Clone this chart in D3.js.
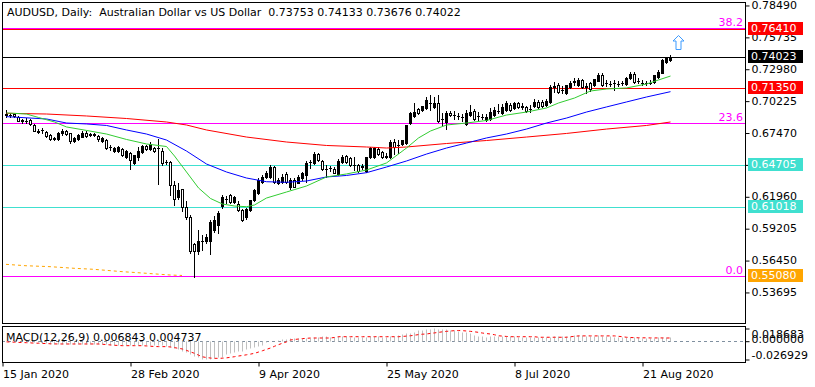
<!DOCTYPE html>
<html><head><meta charset="utf-8">
<script src="https://cdn.jsdelivr.net/npm/d3@7"></script>
<style>
html,body{margin:0;padding:0;background:#fff;}
svg{display:block;font-family:"DejaVu Sans",sans-serif;font-size:11px;}
</style></head><body>
<svg id="c" width="815" height="387"></svg>
<script>
const title = "AUDUSD, Daily:  Australian Dollar vs US Dollar  0.73753 0.74133 0.73676 0.74022";
const macdTitle = "MACD(12,26,9) 0.006843 0.004737";

const open = [.6907,.6896,.6907,.6884,.6849,.6849,.6855,.6815,.6760,.6765,.6752,.6728,.6688,.6688,.6740,.6758,.6740,.6671,.6688,.6711,
.6745,.6726,.6730,.6717,.6676,.6682,.6626,.6585,.6585,.6607,.6538,.6568,.6481,.6538,.6579,.6631,.6607,.6613,.6613,.6590,
.6492,.6492,.6296,.6193,.6256,.6101,.6020,.5784,.5726,.5807,.5807,.5812,.5905,.5951,.6112,.6170,.6207,.6149,.6129,.6078,
.6015,.6078,.6164,.6222,.6320,.6365,.6365,.6447,.6308,.6320,.6386,.6274,.6337,.6313,.6354,.6380,.6488,.6486,.6561,.6504,
.6436,.6438,.6429,.6389,.6492,.6544,.6524,.6466,.6466,.6452,.6417,.6533,.6538,.6602,.6579,.6540,.6538,.6665,.6637,.6648,
.6654,.6827,.6890,.6948,.6942,.6956,.6999,.6965,.7005,.6864,.6841,.6918,.6898,.6890,.6879,.6821,.6898,.6936,.6890,.6881,
.6855,.6868,.6898,.6936,.6913,.6942,.6985,.6956,.7000,.6970,.6965,.6948,.6976,.7013,.7013,.6985,.7013,.7143,.7158,.7114,
.7091,.7138,.7186,.7158,.7201,.7143,.7172,.7158,.7195,.7247,.7172,.7166,.7172,.7166,.7172,.7166,.7216,.7253,.7195,.7177,
.7172,.7177,.7186,.7229,.7264,.7359,.73753];
const high = [.6942,.6918,.6916,.6890,.6866,.6872,.6866,.6821,.6775,.6786,.6761,.6734,.6708,.6751,.6777,.6765,.6747,.6708,.6734,.6756,
.6756,.6747,.6743,.6726,.6708,.6691,.6642,.6622,.6631,.6613,.6592,.6575,.6557,.6619,.6639,.6639,.6665,.6622,.6689,.6613,
.6510,.6501,.6326,.6308,.6263,.6158,.6032,.5793,.5905,.5861,.5870,.5991,.6026,.6069,.6210,.6199,.6212,.6199,.6155,.6086,
.6099,.6164,.6259,.6355,.6380,.6415,.6466,.6462,.6354,.6389,.6406,.6354,.6350,.6376,.6410,.6497,.6510,.6575,.6570,.6510,
.6466,.6462,.6449,.6514,.6553,.6553,.6535,.6538,.6475,.6479,.6533,.6620,.6625,.6618,.6587,.6566,.6682,.6688,.6682,.6682,
.6812,.6924,.6999,.6959,.6976,.7050,.7071,.7054,.7071,.6913,.6935,.6933,.6929,.6916,.6911,.6942,.6985,.6946,.6924,.6907,
.6907,.6959,.6969,.6994,.6994,.7019,.7002,.7015,.7015,.7002,.6976,.6985,.7037,.7024,.7028,.7037,.7158,.7184,.7175,.7145,
.7158,.7192,.7214,.7218,.7209,.7175,.7183,.7207,.7261,.7261,.7201,.7192,.7201,.7192,.7196,.7227,.7270,.7266,.7218,.7201,
.7196,.7201,.7244,.7287,.7382,.7400,.74133];
const low = [.6881,.6884,.6881,.6847,.6832,.6832,.6815,.6760,.6740,.6745,.6708,.6682,.6682,.6682,.6726,.6726,.6659,.6665,.6682,.6704,
.6708,.6713,.6717,.6678,.6669,.6605,.6596,.6579,.6579,.6544,.6531,.6434,.6475,.6510,.6570,.6600,.6596,.6583,.6302,.6464,
.6475,.6210,.6123,.6170,.6072,.6003,.5704,.5501,.5697,.5732,.5792,.5697,.5888,.5879,.6092,.6141,.6142,.6142,.6069,.5983,
.6004,.6069,.6155,.6216,.6311,.6354,.6354,.6311,.6298,.6311,.6315,.6263,.6272,.6307,.6337,.6322,.6441,.6479,.6501,.6419,
.6365,.6415,.6393,.6380,.6484,.6484,.6458,.6423,.6410,.6432,.6410,.6527,.6531,.6553,.6527,.6523,.6531,.6561,.6567,.6639,
.6644,.6821,.6881,.6903,.6933,.6950,.6942,.6959,.6838,.6812,.6775,.6890,.6868,.6864,.6847,.6812,.6890,.6855,.6859,.6864,
.6847,.6859,.6890,.6916,.6903,.6933,.6933,.6950,.6956,.6950,.6924,.6924,.6968,.6963,.6968,.6976,.7006,.7100,.7088,.7088,
.7084,.7132,.7158,.7149,.7132,.7086,.7110,.7149,.7188,.7149,.7149,.7149,.7114,.7145,.7158,.7158,.7209,.7179,.7175,.7158,
.7158,.7162,.7179,.7222,.7257,.7348,.73676];
const close = [.6896,.6901,.6890,.6849,.6851,.6847,.6821,.6763,.6754,.6769,.6717,.6688,.6700,.6740,.6758,.6734,.6671,.6700,.6728,.6745,
.6717,.6730,.6728,.6688,.6700,.6613,.6622,.6613,.6619,.6550,.6585,.6510,.6550,.6590,.6631,.6607,.6648,.6590,.6609,.6486,
.6490,.6296,.6175,.6250,.6101,.6015,.5726,.5726,.5807,.5810,.5847,.5974,.5991,.6052,.6193,.6170,.6149,.6190,.6078,.5991,
.6089,.6164,.6250,.6337,.6365,.6400,.6447,.6322,.6337,.6365,.6322,.6337,.6279,.6365,.6397,.6481,.6490,.6561,.6510,.6429,
.6432,.6441,.6400,.6504,.6538,.6492,.6466,.6465,.6417,.6454,.6533,.6611,.6611,.6561,.6533,.6538,.6668,.6624,.6635,.6682,
.6812,.6913,.6927,.6913,.6976,.7028,.7002,.7005,.6849,.6860,.6918,.6898,.6898,.6888,.6881,.6918,.6927,.6861,.6890,.6879,
.6884,.6920,.6942,.6937,.6970,.7000,.6942,.7000,.6965,.6972,.6936,.6950,.7013,.6970,.6974,.7022,.7143,.7145,.7100,.7113,
.7158,.7172,.7188,.7201,.7143,.7145,.7120,.7207,.7247,.7158,.7171,.7165,.7171,.7166,.7172,.7216,.7253,.7186,.7195,.7179,
.7175,.7179,.7244,.7273,.7374,.7388,.74022];

// moving averages (bar index, value)
const greenIdx = [0,5,8,12,15,20,25,30,35,40,42,45,48,51,54,57,60,62,65,70,75,80,85,90,95,100,103,106,110,115,120,125,130,135,138,142,146,150,155,160,163,166];
const greenVal = [.6916,.6907,.6877,.6838,.6795,.6765,.6734,.6687,.6648,.6626,.6544,.6406,.6268,.6177,.6129,.6112,.6106,.6121,.6181,.6233,.6285,.6363,.6389,.6423,.6484,.6613,.6700,.6760,.6812,.6829,.6851,.6898,.6924,.6959,.7002,.7045,.7106,.7123,.7132,.7166,.7201,.7235];
const blueIdx = [0,10,15,20,25,30,35,40,45,50,55,60,65,70,75,80,85,90,95,100,105,110,115,120,125,130,135,140,145,150,155,160,166];
const blueVal = [.6884,.6864,.6829,.6821,.6808,.6769,.6734,.6682,.6587,.6475,.6406,.6354,.6322,.6317,.6328,.6363,.6376,.6400,.6449,.6501,.6561,.6613,.6656,.6700,.6734,.6777,.6829,.6872,.6924,.6968,.7011,.7054,.7100];
const redIdx = [0,10,20,30,40,45,50,60,70,80,90,95,100,110,120,130,140,150,160,166];
const redVal = [.6913,.6907,.6890,.6868,.6838,.6812,.6769,.6708,.6665,.6635,.6622,.6613,.6622,.6652,.6678,.6708,.6739,.6777,.6808,.6838];
const orangeIdx = [0,5,11,17,22,29,35,41,44];
const orangeVal = [.5608,.5596,.5588,.5574,.5565,.5545,.5531,.5516,.5512];

// horizontal levels and fibo
const levelValues = [0.76410, 0.74023, 0.71350, 0.64705, 0.61018, 0.55080];
const levelLabels = ["0.76410","0.74023","0.71350","0.64705","0.61018","0.55080"];
const fibValues = [0.5508, 0.6829, 0.7647];
const fibLabels = ["0.0","23.6","38.2"];
const priceTicks = [0.78490,0.75735,0.72980,0.70225,0.67470,0.64715,0.61960,0.59205,0.56450,0.53695];
const arrowBar = 168, arrowPrice = 0.7590;

// MACD
const macdMain = [0.0010,0.0010,0.0008,0.0005,0.0003,0.0000,-0.0005,-0.0010,-0.0015,-0.0020,-0.0030,-0.0035,-0.0040,-0.0040,-0.0040,-0.0038,-0.0040,-0.0042,-0.0040,-0.0038,
-0.0036,-0.0035,-0.0034,-0.0036,-0.0038,-0.0045,-0.0050,-0.0052,-0.0052,-0.0056,-0.0056,-0.0060,-0.0062,-0.0060,-0.0055,-0.0052,-0.0050,-0.0052,-0.0054,-0.0062,
-0.0068,-0.0090,-0.0100,-0.0115,-0.0140,-0.0164,-0.0188,-0.0213,-0.0237,-0.0262,-0.0269,-0.0262,-0.0250,-0.0237,-0.0228,-0.0188,-0.0176,-0.0164,-0.0150,-0.0140,
-0.0115,-0.0100,-0.0090,-0.0070,-0.0051,-0.0017,0.0000,0.0010,0.0020,0.0030,0.0035,0.0045,0.0045,0.0045,0.0045,0.0045,0.0050,0.0055,0.0065,0.0070,
0.0070,0.0068,0.0065,0.0070,0.0074,0.0070,0.0066,0.0064,0.0060,0.0060,0.0065,0.0072,0.0076,0.0074,0.0068,0.0066,0.0074,0.0078,0.0095,0.0105,
0.0115,0.0125,0.0135,0.0160,0.0170,0.0175,0.0180,0.0187,0.0180,0.0178,0.0175,0.0165,0.0160,0.0150,0.0140,0.0130,0.0120,0.0090,0.0075,0.0070,
0.0068,0.0070,0.0072,0.0074,0.0076,0.0075,0.0070,0.0070,0.0066,0.0066,0.0062,0.0060,0.0062,0.0060,0.0058,0.0060,0.0068,0.0074,0.0076,0.0078,
0.0080,0.0082,0.0085,0.0086,0.0084,0.0082,0.0078,0.0080,0.0084,0.0080,0.0076,0.0072,0.0068,0.0064,0.0060,0.0062,0.0064,0.0060,0.0056,0.0052,
0.0048,0.0046,0.0050,0.0055,0.0062,0.0066,0.006843];
const macdSignal = [-0.0010,-0.0012,-0.0015,-0.0018,-0.0020,-0.0022,-0.0025,-0.0028,-0.0030,-0.0033,-0.0035,-0.0038,-0.0040,-0.0041,-0.0041,-0.0041,-0.0041,-0.0041,-0.0041,-0.0041,
-0.0041,-0.0041,-0.0041,-0.0041,-0.0045,-0.0050,-0.0055,-0.0060,-0.0063,-0.0066,-0.0066,-0.0066,-0.0066,-0.0066,-0.0066,-0.0070,-0.0074,-0.0078,-0.0080,-0.0080,
-0.0080,-0.0085,-0.0095,-0.0105,-0.0115,-0.0135,-0.0158,-0.0178,-0.0205,-0.0230,-0.0240,-0.0248,-0.0252,-0.0252,-0.0250,-0.0245,-0.0237,-0.0228,-0.0218,-0.0210,
-0.0200,-0.0190,-0.0178,-0.0160,-0.0140,-0.0120,-0.0100,-0.0075,-0.0051,-0.0030,-0.0010,0.0018,0.0025,0.0032,0.0038,0.0042,0.0047,0.0047,0.0047,0.0047,
0.0047,0.0047,0.0055,0.0066,0.0066,0.0066,0.0066,0.0066,0.0066,0.0066,0.0066,0.0066,0.0066,0.0066,0.0066,0.0066,0.0066,0.0066,0.0066,0.0070,
0.0075,0.0080,0.0088,0.0097,0.0103,0.0106,0.0115,0.0122,0.0130,0.0138,0.0145,0.0150,0.0155,0.0157,0.0155,0.0150,0.0145,0.0138,0.0130,0.0120,
0.0112,0.0106,0.0095,0.0080,0.0075,0.0070,0.0066,0.0066,0.0066,0.0066,0.0066,0.0066,0.0066,0.0058,0.0058,0.0058,0.0058,0.0058,0.0058,0.0058,
0.0058,0.0065,0.0072,0.0078,0.0078,0.0078,0.0078,0.0078,0.0078,0.0078,0.0078,0.0078,0.0078,0.0072,0.0065,0.0058,0.0054,0.0052,0.0050,0.0050,
0.0049,0.0048,0.0048,0.0048,0.0048,0.0047,0.004737];
const macdTicks = [0.018683, 0.000000, -0.026929];

const tickBars = [-1, 31, 63, 95, 127, 159];
const tickLabels = ["15 Jan 2020","28 Feb 2020","9 Apr 2020","25 May 2020","8 Jul 2020","21 Aug 2020"];

// ---------- drawing ----------
const svg = d3.select("#c");
const L = 2, R = 745, T = 2, B = 324, MT = 326.5, MB = 362.5;
const x = d3.scaleLinear().domain([0, 166]).range([6, 670]);
const y = d3.scaleLinear().domain([0.50926, 0.78747]).range([B, T]);
const my = d3.scaleLinear().domain([-0.026929, 0.018683]).range([359.5, 328.5]);
const px = i => Math.round(x(i));
const cy = v => Math.round(y(v)) + 0.5;

svg.append("rect").attr("width",815).attr("height",387).attr("fill","#fff");

const main = svg.append("g");
main.append("clipPath").attr("id","mc").append("rect").attr("x",L+1).attr("y",T+1).attr("width",R-L-1).attr("height",B-T-1);
const plot = main.append("g").attr("clip-path","url(#mc)");

// fibo lines
plot.selectAll("line.fib").data(fibValues).join("line")
  .attr("x1",L).attr("x2",R).attr("y1",d=>cy(d)).attr("y2",d=>cy(d))
  .attr("stroke","#FF00FF").attr("stroke-width",1);
plot.selectAll("text.fib").data(fibValues).join("text")
  .attr("x",R-2).attr("y",d=>cy(d)-2.5).attr("text-anchor","end")
  .attr("fill","#FF00FF").text((d,i)=>fibLabels[i]);

// horizontal levels
const levelColors = ["#FF0000","#000000","#FF0000","#40E0D0","#40E0D0","#FF00FF"];
const boxColors = ["#FF0000","#000000","#FF0000","#40E0D0","#40E0D0","#FFA500"];
plot.selectAll("line.lvl").data(levelValues).join("line")
  .attr("x1",L).attr("x2",R).attr("y1",d=>cy(d)).attr("y2",d=>cy(d))
  .attr("stroke",(d,i)=>levelColors[i]).attr("stroke-width",1);

// orange dashed
plot.append("path").datum(orangeIdx.map((b,i)=>[x(b),y(orangeVal[i])]))
  .attr("d",d3.line()).attr("fill","none").attr("stroke","#FFA500").attr("stroke-dasharray","3,3");

// candles
const bars = d3.range(open.length).map(i=>({i,o:open[i],h:high[i],l:low[i],c:close[i]}));
plot.selectAll("line.wick").data(bars).join("line")
  .attr("x1",d=>px(d.i)+0.5).attr("x2",d=>px(d.i)+0.5)
  .attr("y1",d=>Math.round(y(d.h))).attr("y2",d=>Math.round(y(d.l))+1)
  .attr("stroke","#000");
bars.forEach(d=>{
  const top = Math.round(y(Math.max(d.o,d.c))), bot = Math.round(y(Math.min(d.o,d.c)));
  const p = px(d.i);
  if (bot - top < 1) {
    plot.append("line").attr("x1",p-1).attr("x2",p+2).attr("y1",top+0.5).attr("y2",top+0.5).attr("stroke","#000");
  } else if (d.c > d.o) {
    plot.append("rect").attr("x",p-1).attr("y",top).attr("width",3).attr("height",bot-top+1).attr("fill","#000");
  } else {
    plot.append("rect").attr("x",p-0.5).attr("y",top+0.5).attr("width",2).attr("height",bot-top)
      .attr("fill","#fff").attr("stroke","#000");
  }
});

// moving averages
const ma = (idx,val,col)=>plot.append("path").datum(idx.map((b,i)=>[x(b)+0.5,y(val[i])]))
  .attr("d",d3.line()).attr("fill","none").attr("stroke",col).attr("stroke-width",1);
ma(redIdx,redVal,"#FF0000");
ma(blueIdx,blueVal,"#0000FF");
ma(greenIdx,greenVal,"#32CD32");

// arrow
{
  const ax = x(arrowBar)+0.5, ay = Math.round(y(arrowPrice))+0.5;
  plot.append("path")
    .attr("d",`M${ax},${ay} L${ax+5.5},${ay+5.5} L${ax+2.5},${ay+5.5} L${ax+2.5},${ay+14} L${ax-2.5},${ay+14} L${ax-2.5},${ay+5.5} L${ax-5.5},${ay+5.5} Z`)
    .attr("fill","#fff").attr("stroke","#3C9BFF").attr("stroke-width",1);
}

// title
main.append("text").attr("x",7).attr("y",16).attr("fill","#000").style("white-space","pre").text(title);

// frames
svg.append("rect").attr("x",L+0.5).attr("y",T+0.5).attr("width",R-L).attr("height",B-T-1).attr("fill","none").attr("stroke","#000");
svg.append("rect").attr("x",L+0.5).attr("y",MT).attr("width",R-L).attr("height",MB-MT).attr("fill","none").attr("stroke","#000");

// price axis
const ya = svg.append("g").attr("transform",`translate(${R+0.5},0)`)
  .call(d3.axisRight(y).tickValues(priceTicks).tickSize(4).tickPadding(2).tickFormat(d=>d.toFixed(5)));
ya.select(".domain").remove();
ya.selectAll("text").attr("font-family","DejaVu Sans").attr("font-size",11).attr("fill","#000");
ya.selectAll("line").attr("stroke","#000").attr("transform","translate(0,0.5)");

// level boxes
const lb = svg.append("g");
lb.selectAll("rect").data(levelValues).join("rect")
  .attr("x",R+3).attr("y",d=>Math.round(y(d))-7).attr("width",55).attr("height",13)
  .attr("fill",(d,i)=>boxColors[i]);
lb.selectAll("text").data(levelValues).join("text")
  .attr("x",R+6).attr("y",d=>Math.round(y(d))-0.5).attr("dy","0.35em")
  .attr("fill","#fff").text((d,i)=>levelLabels[i]);

// MACD panel
const mp = svg.append("g");
mp.append("clipPath").attr("id","mcc").append("rect").attr("x",L+1).attr("y",MT+1).attr("width",R-L-1).attr("height",MB-MT-1);
const mpl = mp.append("g").attr("clip-path","url(#mcc)");
const z = Math.round(my(0))+0.5;
mpl.append("line").attr("x1",L).attr("x2",R).attr("y1",z).attr("y2",z)
  .attr("stroke","#8090A0").attr("stroke-dasharray","3,3");
mpl.selectAll("line.h").data(macdMain).join("line")
  .attr("x1",(d,i)=>px(i)+0.5).attr("x2",(d,i)=>px(i)+0.5)
  .attr("y1",z).attr("y2",d=>Math.round(my(d))+0.5)
  .attr("stroke","#C0C0C0");
mpl.append("path").datum(macdSignal.map((v,i)=>[x(i)+0.5,my(v)]))
  .attr("d",d3.line()).attr("fill","none").attr("stroke","#FF0000").attr("stroke-dasharray","3,3");
mp.append("text").attr("x",6).attr("y",341).attr("fill","#000").text(macdTitle);

const maxis = svg.append("g").attr("transform",`translate(${R+0.5},0)`)
  .call(d3.axisRight(my).tickValues(macdTicks).tickSize(4).tickPadding(2).tickFormat(d=>d.toFixed(6)));
maxis.select(".domain").remove();
maxis.selectAll("line").attr("stroke","#000");
maxis.selectAll("text").attr("font-family","DejaVu Sans").attr("font-size",11).attr("fill","#000")
  .attr("dy",(d,i)=>["0.85em","0.1em","-0.05em"][i]);

// time axis
const xa = svg.append("g").attr("transform",`translate(0.5,${MB})`)
  .call(d3.axisBottom(x).tickValues(tickBars).tickSize(4).tickFormat((d,i)=>tickLabels[i]));
xa.select(".domain").remove();
xa.selectAll("line").attr("stroke","#000");
xa.selectAll("text").attr("font-family","DejaVu Sans").attr("font-size",11).attr("fill","#000")
  .attr("text-anchor","start").attr("y",15).attr("dy",0).attr("x",0);
xa.selectAll(".tick").filter((d,i)=>i===0).attr("transform","translate(2.5,0)");
</script>
</body></html>
